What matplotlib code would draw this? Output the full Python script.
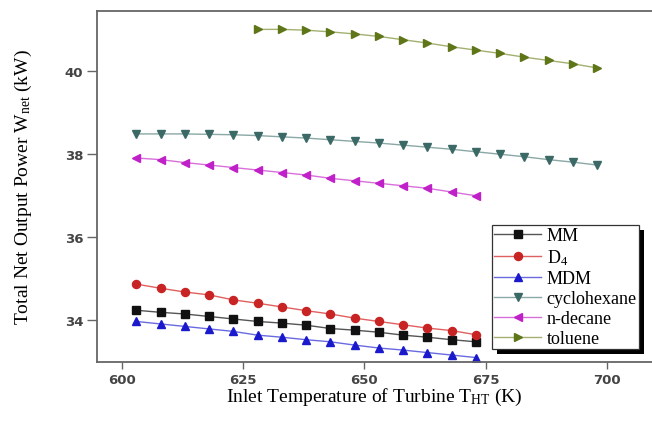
import numpy as np
import matplotlib
matplotlib.use('Agg')
import matplotlib.pyplot as plt
from matplotlib.patches import Rectangle

# Inlet temperature (K)
T_short = [603, 608, 613, 618, 623, 628, 633, 638, 643, 648, 653, 658, 663, 668, 673]
T_cyclo = [603, 608, 613, 618, 623, 628, 633, 638, 643, 648, 653, 658, 663, 668, 673,
           678, 683, 688, 693, 698]
T_tol = [628, 633, 638, 643, 648, 653, 658, 663, 668, 673, 678, 683, 688, 693, 698]

# Total net output power (kW)
W_MM = [34.23, 34.18, 34.14, 34.08, 34.02, 33.96, 33.92, 33.87, 33.79, 33.75, 33.70,
        33.63, 33.58, 33.52, 33.47]
W_D4 = [34.86, 34.76, 34.67, 34.60, 34.48, 34.40, 34.31, 34.22, 34.14, 34.04, 33.96,
        33.88, 33.80, 33.74, 33.64]
W_MDM = [33.96, 33.90, 33.84, 33.78, 33.72, 33.63, 33.58, 33.52, 33.47, 33.39, 33.32,
         33.27, 33.21, 33.15, 33.09]
W_cyclo = [38.48, 38.48, 38.48, 38.47, 38.46, 38.44, 38.41, 38.38, 38.34, 38.30, 38.26,
           38.21, 38.16, 38.11, 38.05, 37.99, 37.93, 37.86, 37.80, 37.73]
W_decane = [37.90, 37.86, 37.79, 37.73, 37.67, 37.61, 37.55, 37.49, 37.41, 37.35, 37.29,
            37.23, 37.17, 37.08, 36.99]
W_tol = [41.00, 41.00, 40.98, 40.94, 40.89, 40.83, 40.75, 40.67, 40.58, 40.50, 40.42,
         40.33, 40.25, 40.17, 40.07]

plt.rcParams['mathtext.fontset'] = 'custom'
plt.rcParams['mathtext.rm'] = 'Liberation Serif'
plt.rcParams['mathtext.it'] = 'Liberation Serif:italic'

fig = plt.figure(figsize=(6.52, 4.27), dpi=100)
# the original picture is cropped on the right: no right spine
ax = fig.add_axes([97/652, 1-362.7/427, (652-97)/652, (362.7-11.7)/427])

series = [
    (T_short, W_MM, 'MM', 's', '#111111', '#555555'),
    (T_short, W_D4, r'D$_4$', 'o', '#c82424', '#e06060'),
    (T_short, W_MDM, 'MDM', '^', '#1a1acc', '#6a6ae0'),
    (T_cyclo, W_cyclo, 'cyclohexane', 'v', '#3b6a66', '#8aa8a5'),
    (T_short, W_decane, 'n-decane', '<', '#c020c8', '#d870dc'),
    (T_tol, W_tol, 'toluene', '>', '#5e7518', '#a3b070'),
]
for T, W, name, mk, c, lc in series:
    ax.plot(T, W, color=lc, lw=1.0, marker=mk, ms=5.8, mfc=c, mec=c, label=name)

ax.set_xlim(594.9, 709.3)
ax.set_ylim(32.99, 41.45)
ax.set_xticks([600, 625, 650, 675, 700])
ax.set_yticks([34, 36, 38, 40])
for s in ['left', 'bottom', 'top']:
    ax.spines[s].set_color('#666666')
    ax.spines[s].set_linewidth(1.3)
ax.spines['right'].set_visible(False)
ax.tick_params(axis='x', direction='out', length=5, width=1, color='#666666',
               labelsize=9.5, labelcolor='#444444', pad=3)
ax.tick_params(axis='y', direction='out', length=7, width=1, color='#666666',
               labelsize=9.5, labelcolor='#444444', pad=3)
for lab in ax.get_xticklabels() + ax.get_yticklabels():
    lab.set_fontweight('bold')
    lab.set_family('DejaVu Sans')

ax.set_xlabel(r'Inlet Temperature of Turbine T$_{\mathrm{HT}}$ (K)', family='Liberation Serif',
              fontsize=14, labelpad=0)
ax.set_ylabel(r'Total Net Output Power W$_{\mathrm{net}}$ (kW)', family='Liberation Serif',
              fontsize=14, labelpad=22)

leg = ax.legend(loc='upper left', bbox_to_anchor=(492/652, 1-226/427), bbox_transform=fig.transFigure,
                prop={'family': 'Liberation Serif', 'size': 13}, handlelength=2.6,
                labelspacing=0.17, borderpad=0.12, handletextpad=0.3, borderaxespad=0,
                fancybox=False, framealpha=1)
leg.get_frame().set_edgecolor('#333333')
leg.get_frame().set_linewidth(0.9)

# heavy black drop shadow behind the legend box
fig.canvas.draw()
bb = leg.get_window_extent()
ax.add_patch(Rectangle((bb.x0 + 5, bb.y0 - 5), bb.width, bb.height, transform=None,
                       facecolor='black', edgecolor='none', zorder=4.9, clip_on=False))

fig.savefig('out.png', dpi=100)
